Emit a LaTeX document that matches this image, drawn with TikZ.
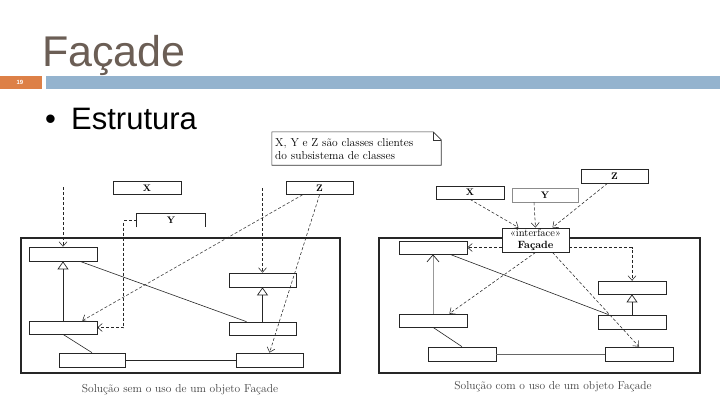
\documentclass[tikz,border=0pt]{standalone}
\usepackage{fontspec}
\newfontfamily\arialfont{Liberation Sans}
\usetikzlibrary{arrows.meta,calc}
\definecolor{titlecol}{RGB}{107,94,85}
\definecolor{orangebar}{RGB}{221,128,71}
\definecolor{bluebar}{RGB}{148,179,206}
\tikzset{
  cls/.style={draw=black!85, line width=0.7pt, minimum width=68pt, minimum height=13pt, inner sep=0pt, fill=white, font=\fontsize{9.5}{10}\selectfont\bfseries},
  frame/.style={draw=black!85, line width=1.1pt},
  dep/.style={densely dashed, line width=0.55pt, draw=black!85, -{Straight Barb[length=4.5pt,width=8pt]}},
  gen/.style={line width=0.7pt, draw=black!85, -{Triangle[open,length=8pt,width=11pt]}},
  genv/.style={line width=0.6pt, draw=black!40, -{Straight Barb[length=7pt,width=12pt,line width=0.7pt,black!85]}},
  assoc/.style={line width=0.6pt, draw=black!85},
  caption/.style={font=\fontsize{11.5}{13}\selectfont, text=black!75, inner sep=0pt}
}
\begin{document}
\begin{tikzpicture}[x=1pt,y=-1pt]
\useasboundingbox (0,0) rectangle (720,405);
% header
\fill[orangebar] (0,76) rectangle (42,89);
\node[text=white, font=\arialfont\fontsize{6}{7}\selectfont\bfseries] (pg) at (20,82.5) {19};
\fill[bluebar] (46,76) rectangle (720,89);
\node[anchor=base west, text=titlecol, font=\arialfont\fontsize{43}{50}\selectfont, inner sep=0pt] (title) at (42,66) {Façade};
\node[anchor=base west, font=\arialfont\fontsize{31}{36}\selectfont, inner sep=0pt] (bullet) at (45,129) {•};
\node[anchor=base west, font=\arialfont\fontsize{31}{36}\selectfont, inner sep=0pt] (estr) at (71,129) {Estrutura};

% note
\node[minimum width=169pt, minimum height=33pt, inner sep=0pt] (note) at (356.5,148.5) {};
\draw[line width=0.6pt, black!80] (note.south west) -- (note.north west) -- ($(note.north east)+(-8,0)$) -- ($(note.north east)+(0,8)$) -- (note.south east) -- cycle;
\draw[line width=0.5pt, black!80] ($(note.north east)+(-8,0)$) |- ($(note.north east)+(0,8)$);
\node[anchor=west, align=left, inner sep=0pt, font=\fontsize{11.5}{12.5}\selectfont] (notetext) at (275,149) {X, Y e Z são classes clientes\\do subsistema de classes};

% ===== left diagram =====
\draw[frame] (21,238) rectangle (340,373);
\node[cls] (LX) at (147,188) {X};
\node[cls, draw=none, fill=none] (LY) at (171,220.5) {Y};
\draw[line width=0.7pt, black!85] (LY.south west) |- (LY.north east) -- (LY.south east);
\node[cls, minimum width=67pt] (LZ) at (319.5,188) {Z};
\node[cls, minimum height=14pt] (A1) at (63,254) {};
\node[cls] (A2) at (63,327.5) {};
\node[cls, minimum width=66pt, minimum height=14pt] (A3) at (92,360) {};
\node[cls, minimum width=67pt, minimum height=14pt] (A4) at (269.5,360) {};
\node[cls, minimum width=67pt, minimum height=14pt] (B1) at (262.5,280) {};
\node[cls, minimum width=67pt] (B2) at (262.5,328.5) {};
\coordinate (inA) at (63,187);
\coordinate (inB) at (262.5,188);

\draw[assoc] ($(A1.south)+(17,0)$) -- ($(B2.north)+(-16,0)$);
\draw[assoc] (A2.south) -- (A3.north);
\draw[assoc] (A3.east) -- (A4.west);
\draw[gen] (A2.north) -- (A1.south);
\draw[gen] (B2.north) -- (B1.south);
\draw[dep] (inA) -- (A1.north);
\draw[dep] (inB) -- (B1.north);
\draw[dep] (LY.west) -- ++(-13,0) |- (A2.east);
\draw[dep] ($(LZ.south)+(-17,0)$) -- ($(A2.north east)+(-15,0)$);
\draw[dep] (LZ.south) -- (A4.north);
\node[caption] (capL) at (180,390) {Solução sem o uso de um objeto Façade};

% ===== right diagram =====
\draw[frame] (379,238) rectangle (700,373);
\node[cls] (RX) at (470,192.5) {X};
\node[cls, minimum width=66pt, minimum height=14pt, draw=black!45] (RY) at (545,195) {Y};
\node[cls, minimum width=67pt, minimum height=14pt] (RZ) at (614.5,176) {Z};
\node[cls, minimum width=67pt, minimum height=24pt, align=center, line width=0.9pt, font=\fontsize{10.5}{11.5}\selectfont] (F) at (535.5,240) {«interface»\\\textbf{Façade}};
\node[cls] (C1) at (433,247.5) {};
\node[cls] (C2) at (433,320.5) {};
\node[cls, minimum height=14pt] (C3) at (462,354) {};
\node[cls, minimum height=14pt] (C4) at (639,354) {};
\node[cls] (D1) at (632,287.5) {};
\node[cls, minimum height=14pt] (D2) at (632,322) {};

\draw[assoc] ($(C1.south)+(17,0)$) -- ($(D2.north west)+(11,0)$);
\draw[assoc] (C2.south) -- (C3.north);
\draw[assoc, black!60] (C3.east) -- (C4.west);
\draw[genv] (C2.north) -- (C1.south);
\draw[gen] (D2.north) -- (D1.south);
\draw[dep] (RX.south) -- ($(F.north)+(-17,0)$);
\draw[dep] ($(RY.south)+(-11,0)$) -- (F.north);
\draw[dep] ($(RZ.south)+(-7,0)$) -- ($(F.north)+(17,0)$);
\draw[dep] (F.west |- C1.east) -- (C1.east);
\draw[dep] (F.east |- C1.east) -| (D1.north);
\draw[dep] (F.south) -- ($(C2.north east)+(-18,0)$);
\draw[dep] ($(F.south)+(17,0)$) -- (C4.north);
\node[caption] (capR) at (553,387) {Solução com o uso de um objeto Façade};
\end{tikzpicture}
\end{document}
